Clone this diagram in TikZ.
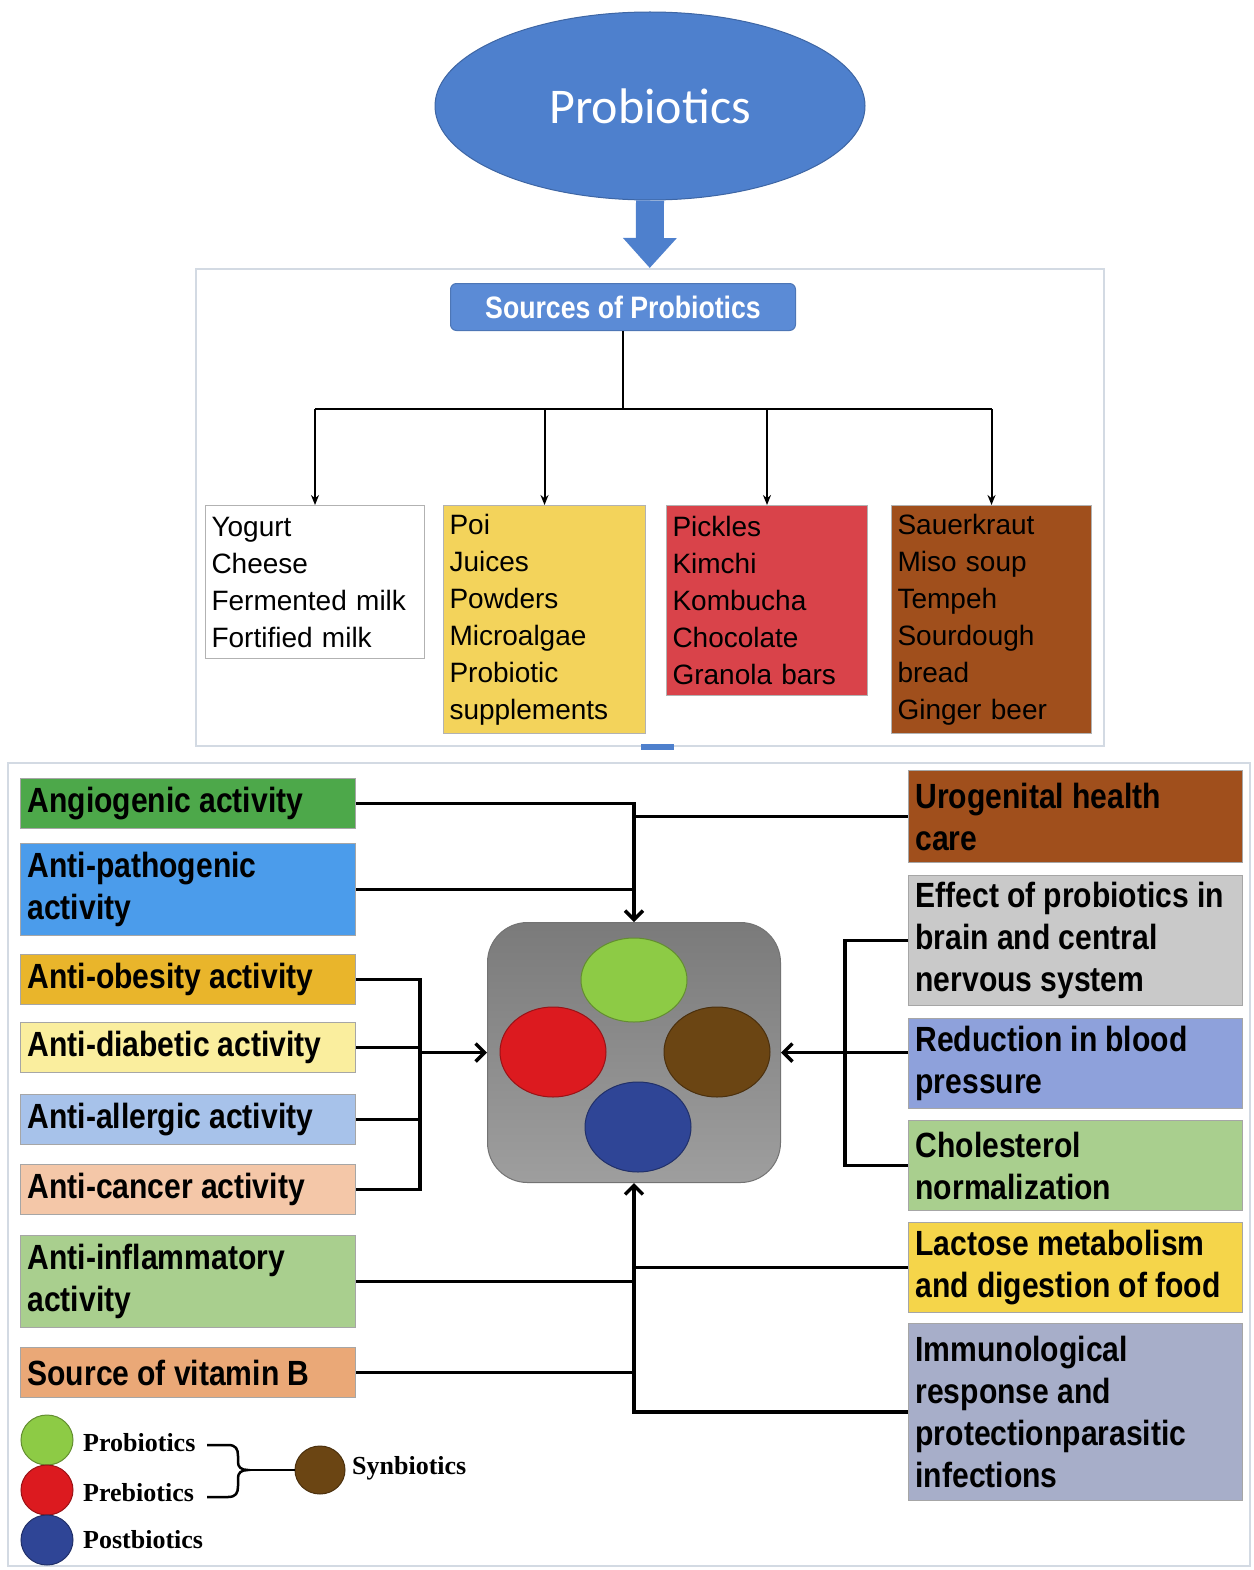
\documentclass[tikz,border=0pt]{standalone}
\usepackage{fontspec}
\setmainfont{Liberation Sans}
\newfontfamily\cond[FakeStretch=0.86]{Liberation Sans}
\newfontfamily\calib{Carlito}
\newfontfamily\lserif{Liberation Serif}
\usetikzlibrary{shapes.geometric,arrows.meta}
\definecolor{ellblue}{HTML}{4E80CD}
\definecolor{srcblue}{HTML}{5B8BD6}
\definecolor{frgray}{HTML}{D3DAE3}
\definecolor{cyel}{HTML}{F3D35B}
\definecolor{cred}{HTML}{D9434A}
\definecolor{cbrown}{HTML}{A04F1C}
\definecolor{cang}{HTML}{4DA84A}
\definecolor{cpath}{HTML}{4B9CEB}
\definecolor{cobes}{HTML}{E9B52B}
\definecolor{cdiab}{HTML}{FAEE9E}
\definecolor{caller}{HTML}{A7C2EA}
\definecolor{ccanc}{HTML}{F4C7A8}
\definecolor{cinfl}{HTML}{A9CF8E}
\definecolor{cvitb}{HTML}{EAA877}
\definecolor{ceff}{HTML}{C9C9C9}
\definecolor{cred2}{HTML}{8EA1DB}
\definecolor{clact}{HTML}{F5D54A}
\definecolor{cimm}{HTML}{A7AEC9}
\definecolor{kgreen}{HTML}{8DCB45}
\definecolor{kred}{HTML}{DC1A1F}
\definecolor{kbrown}{HTML}{6B4513}
\definecolor{kblue}{HTML}{2F4596}
\begin{document}
\begin{tikzpicture}[x=1pt,y=-1pt,
  frame/.style={draw=frgray, line width=1.5pt, anchor=north west, inner sep=0pt},
  sbox/.style={draw=black!30, line width=1pt, anchor=north west, inner xsep=6pt, inner ysep=0pt,
    align=left, font=\fontsize{28}{37}\selectfont},
  lbox/.style={draw=black!35, line width=1pt, anchor=north west, inner xsep=7pt, inner ysep=0pt,
    align=left, text width=321pt, minimum height=#1, font=\cond\bfseries\fontsize{35}{42}\selectfont,
    execute at begin node={\spaceskip=0.23em plus 0.05em\relax}},
  rbox/.style={draw=black!35, line width=1pt, anchor=north west, inner xsep=7pt, inner ysep=0pt,
    align=left, text width=320pt, minimum height=#1, font=\cond\bfseries\fontsize{35}{42}\selectfont,
    execute at begin node={\spaceskip=0.23em plus 0.05em\relax}},
  tree/.style={line width=2pt, black},
  treearr/.style={tree, -{Stealth[length=10pt,width=8pt]}},
  conn/.style={line width=3.5pt, black},
  connarr/.style={conn, -{Straight Barb[length=9pt,width=18pt]}},
  blob/.style={ellipse, line width=1pt, inner sep=0pt},
  legtext/.style={anchor=west, inner sep=0pt, font=\lserif\bfseries\fontsize{26}{30}\selectfont}
]
\useasboundingbox (0,0) rectangle (1253,1570);

% ---------- top part ----------
\node[ellipse, fill=ellblue, draw=ellblue!80!black, line width=1pt, minimum width=430pt, minimum height=188pt,
  font=\calib\fontsize{50}{60}\selectfont, text=white] (ell) at (650,106) {Probiotics};
\node[frame, minimum width=908pt, minimum height=477pt] (fr) at (195,268) {};
\draw[line width=28pt, draw=ellblue, -{Triangle[length=30pt,width=52pt]}] (ell.south) -- (fr.north);
\fill[ellblue] (641,744) rectangle (674,750);

\node[fill=srcblue, draw=srcblue!85!black, line width=1pt, rounded corners=6pt, minimum width=345pt, minimum height=47pt,
  anchor=north west, text=white, font=\cond\bfseries\fontsize{31}{36}\selectfont] (src) at (450,283) {Sources of Probiotics};

\node[sbox, fill=white, text width=207pt, minimum height=153pt] (b1) at (205,505)
  {Yogurt\\Cheese\\Fermented milk\\Fortified milk};
\node[sbox, fill=cyel, text width=190pt, minimum height=228pt] (b2) at (443,505)
  {Poi\\Juices\\Powders\\Microalgae\\Probiotic\\supplements};
\node[sbox, fill=cred, text width=189pt, minimum height=190pt] (b3) at (666,505)
  {Pickles\\Kimchi\\Kombucha\\Chocolate\\Granola bars};
\node[sbox, fill=cbrown, text width=188pt, minimum height=228pt] (b4) at (891,505)
  {Sauerkraut\\Miso soup\\Tempeh\\Sourdough\\bread\\Ginger beer};

\draw[tree] (src.south) -- ++(0,78) coordinate (tj);
\draw[tree] (b1.north |- tj) -- (b4.north |- tj);
\draw[treearr] (b1.north |- tj) -- (b1.north);
\draw[treearr] (b2.north |- tj) -- (b2.north);
\draw[treearr] (b3.north |- tj) -- (b3.north);
\draw[treearr] (b4.north |- tj) -- (b4.north);

% ---------- bottom part ----------
\draw[draw=frgray, line width=1.5pt] (8,763) rectangle (1250,1566);

\node[lbox=50pt, fill=cang] (ang) at (20,778) {Angiogenic activity};
\node[lbox=92pt, fill=cpath] (pat) at (20,843) {Anti-pathogenic\\activity};
\node[lbox=50pt, fill=cobes] (obe) at (20,954) {Anti-obesity activity};
\node[lbox=50pt, fill=cdiab] (dia) at (20,1022) {Anti-diabetic activity};
\node[lbox=50pt, fill=caller] (all) at (20,1094) {Anti-allergic activity};
\node[lbox=50pt, fill=ccanc] (can) at (20,1164) {Anti-cancer activity};
\node[lbox=92pt, fill=cinfl] (inf) at (20,1235) {Anti-inflammatory\\activity};
\node[lbox=50pt, fill=cvitb] (vit) at (20,1347) {Source of vitamin B};

\node[rbox=92pt, fill=cbrown] (uro) at (908,770) {Urogenital health\\care};
\node[rbox=130pt, fill=ceff] (eff) at (908,875) {Effect of probiotics in\\brain and central\\nervous system};
\node[rbox=90pt, fill=cred2] (red) at (908,1018) {Reduction in blood\\pressure};
\node[rbox=90pt, fill=cinfl] (cho) at (908,1120) {Cholesterol\\normalization};
\node[rbox=90pt, fill=clact] (lac) at (908,1222) {Lactose metabolism\\and digestion of food};
\node[rbox=177pt, fill=cimm] (imm) at (908,1323) {Immunological\\response and\\protectionparasitic\\infections};

\node[draw=black!55, line width=1pt, rounded corners=40pt, top color=black!52, bottom color=black!38,
  minimum width=293pt, minimum height=260pt, anchor=north west] (cbox) at (487,922) {};
\node[blob, fill=kgreen, draw=kgreen!70!black, minimum width=106pt, minimum height=84pt] (cg) at (634,980) {};
\node[blob, fill=kred, draw=kred!70!black, minimum width=106pt, minimum height=90pt] (cr) at (553,1052) {};
\node[blob, fill=kbrown, draw=kbrown!70!black, minimum width=106pt, minimum height=90pt] (cb) at (717,1052) {};
\node[blob, fill=kblue, draw=kblue!70!black, minimum width=106pt, minimum height=90pt] (cu) at (638,1127) {};

% top connectors
\draw[connarr] (ang.east) -| (cbox.north);
\draw[conn] (pat.east) -- (pat.east -| cbox.north);
\draw[conn] (uro.west) -- (uro.west -| cbox.north);

% left group
\coordinate (jl) at (420,1052);
\draw[conn] (obe.east) -| (jl |- can.east) -- (can.east);
\draw[conn] (dia.east) -- (dia.east -| jl);
\draw[conn] (all.east) -- (all.east -| jl);
\draw[connarr] (jl |- cbox.west) -- (cbox.west);

% right group
\coordinate (jr) at (845,1052);
\draw[conn] (eff.west) -| (jr |- cho.west) -- (cho.west);
\draw[conn] (red.west |- cbox.east) -- (jr |- cbox.east);
\draw[connarr] (jr |- cbox.east) -- (cbox.east);

% bottom group
\draw[conn] (inf.east) -- (inf.east -| cbox.south);
\draw[conn] (vit.east) -- (vit.east -| cbox.south);
\draw[conn] (lac.west) -- (lac.west -| cbox.south);
\draw[connarr] (imm.west) -| (cbox.south);

% ---------- legend ----------
\node[blob, fill=kgreen, draw=kgreen!70!black, minimum width=52pt, minimum height=50pt] (lg) at (47,1440) {};
\node[blob, fill=kred, draw=kred!70!black, minimum width=52pt, minimum height=50pt] (lr) at (47,1490) {};
\node[blob, fill=kblue, draw=kblue!70!black, minimum width=52pt, minimum height=50pt] (lb) at (47,1540) {};
\node[legtext] (tpro) at (83,1443) {Probiotics};
\node[legtext] (tpre) at (83,1493) {Prebiotics};
\node[legtext] (tpos) at (83,1540) {Postbiotics};
\node[blob, fill=kbrown, draw=kbrown!70!black, minimum width=50pt, minimum height=48pt] (lsy) at (320,1470) {};
\node[legtext] (tsyn) at (352,1468) {Synbiotics};
\draw[line width=2.5pt] (207,1445) -- (228,1445) .. controls (236,1445) and (238,1449) .. (238,1456)
  -- (238,1462) .. controls (238,1467) and (241,1470) .. (248,1470) coordinate (btip)
  .. controls (241,1470) and (238,1473) .. (238,1478) -- (238,1486)
  .. controls (238,1493) and (236,1497) .. (228,1497) -- (207,1497);
\draw[line width=2.5pt] (btip) -- (lsy.west);
\end{tikzpicture}
\end{document}
